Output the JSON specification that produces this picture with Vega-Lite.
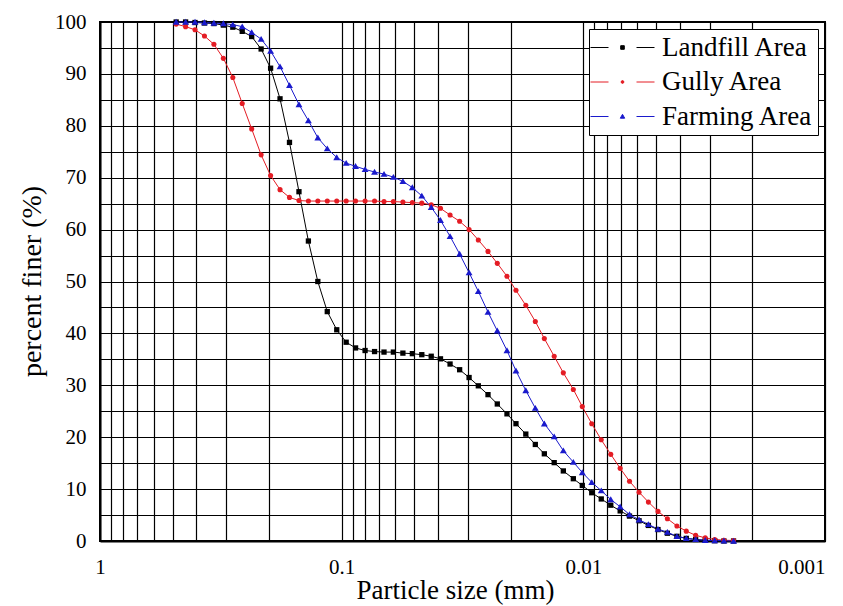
{
  "$schema": "https://vega.github.io/schema/vega-lite/v6.json",
  "width": 725,
  "height": 519,
  "autosize": {"type": "none"},
  "padding": {"left": 100, "top": 22, "right": 18, "bottom": 65},
  "background": "#ffffff",
  "config": {
    "font": "Liberation Serif",
    "view": {"stroke": "#000000", "strokeWidth": 2},
    "axis": {
      "grid": true,
      "gridColor": "#000000",
      "gridOpacity": 1,
      "gridWidth": 1.2,
      "domainColor": "#000000",
      "domainWidth": 2,
      "ticks": false,
      "labelFont": "Liberation Serif",
      "labelFontSize": 21,
      "labelColor": "#000000",
      "titleFont": "Liberation Serif",
      "titleFontWeight": "normal",
      "titleColor": "#000000"
    }
  },
  "data": {
    "values": [
      {"size_mm": 0.484, "Landfill Area": 100, "Gully Area": 99.6, "Farming Area": 100},
      {"size_mm": 0.4424, "Landfill Area": 100, "Gully Area": 99.1, "Farming Area": 100},
      {"size_mm": 0.4044, "Landfill Area": 99.9, "Gully Area": 98.5, "Farming Area": 100},
      {"size_mm": 0.3696, "Landfill Area": 99.8, "Gully Area": 97.3, "Farming Area": 99.9},
      {"size_mm": 0.3378, "Landfill Area": 99.7, "Gully Area": 95.7, "Farming Area": 99.8},
      {"size_mm": 0.3087, "Landfill Area": 99.4, "Gully Area": 93.0, "Farming Area": 99.7},
      {"size_mm": 0.2821, "Landfill Area": 99.0, "Gully Area": 89.3, "Farming Area": 99.5},
      {"size_mm": 0.2579, "Landfill Area": 98.2, "Gully Area": 84.3, "Farming Area": 99.1},
      {"size_mm": 0.2357, "Landfill Area": 97.2, "Gully Area": 79.4, "Farming Area": 98.0},
      {"size_mm": 0.2154, "Landfill Area": 94.8, "Gully Area": 74.4, "Farming Area": 96.7},
      {"size_mm": 0.1968, "Landfill Area": 91.1, "Gully Area": 70.4, "Farming Area": 94.4},
      {"size_mm": 0.1799, "Landfill Area": 85.2, "Gully Area": 67.7, "Farming Area": 91.4},
      {"size_mm": 0.1644, "Landfill Area": 76.8, "Gully Area": 66.2, "Farming Area": 87.8},
      {"size_mm": 0.1502, "Landfill Area": 67.3, "Gully Area": 65.6, "Farming Area": 84.1},
      {"size_mm": 0.1373, "Landfill Area": 57.8, "Gully Area": 65.5, "Farming Area": 81.0},
      {"size_mm": 0.1255, "Landfill Area": 50.0, "Gully Area": 65.5, "Farming Area": 77.7},
      {"size_mm": 0.1147, "Landfill Area": 44.2, "Gully Area": 65.5, "Farming Area": 75.6},
      {"size_mm": 0.1048, "Landfill Area": 40.7, "Gully Area": 65.5, "Farming Area": 73.9},
      {"size_mm": 0.0958, "Landfill Area": 38.3, "Gully Area": 65.5, "Farming Area": 72.8},
      {"size_mm": 0.0876, "Landfill Area": 37.2, "Gully Area": 65.5, "Farming Area": 72.2},
      {"size_mm": 0.08, "Landfill Area": 36.7, "Gully Area": 65.5, "Farming Area": 71.6},
      {"size_mm": 0.0731, "Landfill Area": 36.5, "Gully Area": 65.5, "Farming Area": 71.1},
      {"size_mm": 0.0668, "Landfill Area": 36.4, "Gully Area": 65.4, "Farming Area": 70.7},
      {"size_mm": 0.0611, "Landfill Area": 36.4, "Gully Area": 65.4, "Farming Area": 70.1},
      {"size_mm": 0.0558, "Landfill Area": 36.2, "Gully Area": 65.3, "Farming Area": 69.3},
      {"size_mm": 0.051, "Landfill Area": 36.1, "Gully Area": 65.2, "Farming Area": 68.1},
      {"size_mm": 0.0466, "Landfill Area": 35.9, "Gully Area": 65.1, "Farming Area": 66.5},
      {"size_mm": 0.0426, "Landfill Area": 35.6, "Gully Area": 64.8, "Farming Area": 64.3},
      {"size_mm": 0.039, "Landfill Area": 35.1, "Gully Area": 64.1, "Farming Area": 61.8},
      {"size_mm": 0.0356, "Landfill Area": 34.1, "Gully Area": 62.8, "Farming Area": 58.7},
      {"size_mm": 0.0325, "Landfill Area": 33.0, "Gully Area": 61.6, "Farming Area": 55.3},
      {"size_mm": 0.0297, "Landfill Area": 31.5, "Gully Area": 60.0, "Farming Area": 51.7},
      {"size_mm": 0.0272, "Landfill Area": 29.9, "Gully Area": 58.0, "Farming Area": 48.1},
      {"size_mm": 0.0248, "Landfill Area": 28.2, "Gully Area": 55.8, "Farming Area": 44.1},
      {"size_mm": 0.0227, "Landfill Area": 26.4, "Gully Area": 53.5, "Farming Area": 40.5},
      {"size_mm": 0.0207, "Landfill Area": 24.5, "Gully Area": 51.0, "Farming Area": 36.7},
      {"size_mm": 0.019, "Landfill Area": 22.6, "Gully Area": 48.3, "Farming Area": 32.8},
      {"size_mm": 0.0173, "Landfill Area": 20.6, "Gully Area": 45.4, "Farming Area": 29.0},
      {"size_mm": 0.0158, "Landfill Area": 18.6, "Gully Area": 42.3, "Farming Area": 25.6},
      {"size_mm": 0.0145, "Landfill Area": 16.8, "Gully Area": 39.0, "Farming Area": 22.6},
      {"size_mm": 0.0132, "Landfill Area": 15.1, "Gully Area": 35.6, "Farming Area": 20.1},
      {"size_mm": 0.0121, "Landfill Area": 13.5, "Gully Area": 32.4, "Farming Area": 17.4},
      {"size_mm": 0.011, "Landfill Area": 12.0, "Gully Area": 29.2, "Farming Area": 15.2},
      {"size_mm": 0.0101, "Landfill Area": 10.7, "Gully Area": 25.9, "Farming Area": 13.2},
      {"size_mm": 0.00923, "Landfill Area": 9.3, "Gully Area": 22.6, "Farming Area": 11.3},
      {"size_mm": 0.00843, "Landfill Area": 8.1, "Gully Area": 19.5, "Farming Area": 9.7},
      {"size_mm": 0.0077, "Landfill Area": 6.9, "Gully Area": 16.7, "Farming Area": 8.0},
      {"size_mm": 0.00704, "Landfill Area": 5.8, "Gully Area": 14.0, "Farming Area": 6.6},
      {"size_mm": 0.00644, "Landfill Area": 4.8, "Gully Area": 11.5, "Farming Area": 5.1},
      {"size_mm": 0.00588, "Landfill Area": 3.9, "Gully Area": 9.4, "Farming Area": 4.1},
      {"size_mm": 0.00538, "Landfill Area": 3.0, "Gully Area": 7.5, "Farming Area": 3.2},
      {"size_mm": 0.00491, "Landfill Area": 2.2, "Gully Area": 5.7, "Farming Area": 2.3},
      {"size_mm": 0.00449, "Landfill Area": 1.5, "Gully Area": 4.3, "Farming Area": 1.7},
      {"size_mm": 0.0041, "Landfill Area": 0.9, "Gully Area": 2.9, "Farming Area": 0.9},
      {"size_mm": 0.00375, "Landfill Area": 0.5, "Gully Area": 1.9, "Farming Area": 0.5},
      {"size_mm": 0.00343, "Landfill Area": 0.3, "Gully Area": 1.1, "Farming Area": 0.3},
      {"size_mm": 0.00313, "Landfill Area": 0.15, "Gully Area": 0.6, "Farming Area": 0.15},
      {"size_mm": 0.00286, "Landfill Area": 0.05, "Gully Area": 0.3, "Farming Area": 0.1},
      {"size_mm": 0.00262, "Landfill Area": 0, "Gully Area": 0.15, "Farming Area": 0.05},
      {"size_mm": 0.00239, "Landfill Area": 0, "Gully Area": 0.1, "Farming Area": 0}
    ]
  },
  "transform": [
    {"fold": ["Landfill Area", "Gully Area", "Farming Area"], "as": ["series", "percent"]}
  ],
  "encoding": {
    "x": {
      "field": "size_mm",
      "type": "quantitative",
      "scale": {"type": "log", "domain": [0.001, 1], "reverse": true, "nice": false},
      "axis": {
        "title": "Particle size (mm)",
        "values": [1, 0.9, 0.8, 0.7, 0.6, 0.5, 0.4, 0.3, 0.2, 0.1, 0.09, 0.08, 0.07, 0.06, 0.05, 0.04, 0.03, 0.02, 0.01, 0.009, 0.008, 0.007, 0.006, 0.005, 0.004, 0.003, 0.002, 0.001],
        "labelExpr": "datum.value == 1 ? '1' : datum.value == 0.1 ? '0.1' : datum.value == 0.01 ? '0.01' : datum.value == 0.001 ? '0.001' : ''",
        "labelAlign": {"condition": {"test": "datum.value < 0.0015", "value": "right"}, "value": "center"},
        "labelOverlap": false,
        "labelFlush": false,
        "labelPadding": 15,
        "labelFont": "Liberation Serif",
        "labelFontSize": 21,
        "titleFont": "Liberation Serif",
        "titleFontSize": 27,
        "titleX": 355,
        "titleY": 57,
        "titleBaseline": "alphabetic",
        "titleAlign": "center"
      }
    },
    "y": {
      "field": "percent",
      "type": "quantitative",
      "scale": {"domain": [0, 100], "nice": false},
      "axis": {
        "title": "percent finer (%)",
        "values": [0, 5, 10, 15, 20, 25, 30, 35, 40, 45, 50, 55, 60, 65, 70, 75, 80, 85, 90, 95, 100],
        "labelExpr": "datum.value % 10 == 0 ? datum.label : ''",
        "labelOverlap": false,
        "labelFlush": false,
        "labelPadding": 14,
        "labelFont": "Liberation Serif",
        "labelFontSize": 21,
        "titleFont": "Liberation Serif",
        "titleFontSize": 28,
        "titleX": -60,
        "titleY": 259,
        "titleBaseline": "alphabetic",
        "titleAlign": "center",
        "titleAngle": -90
      }
    },
    "color": {
      "field": "series",
      "type": "nominal",
      "scale": {
        "domain": ["Landfill Area", "Gully Area", "Farming Area"],
        "range": ["#000000", "#e41c24", "#1a1acc"]
      },
      "legend": {
        "title": null,
        "orient": "top-right",
        "offset": 7,
        "padding": 5,
        "rowPadding": 6.5,
        "strokeColor": "#000000",
        "fillColor": "#ffffff",
        "cornerRadius": 0,
        "labelFont": "Liberation Serif",
        "labelFontSize": 27,
        "labelColor": "#000000",
        "labelLimit": 400,
        "symbolSize": 16,
        "symbolOffset": 15,
        "labelOffset": 26,
        "symbolStrokeWidth": 1,
        "symbolOpacity": 1
      }
    }
  },
  "layer": [
    {
      "mark": {"type": "line", "strokeWidth": 1},
      "encoding": {}
    },
    {
      "transform": [{"filter": "datum.series == 'Landfill Area'"}],
      "mark": {"type": "point", "filled": true, "opacity": 1, "size": 28, "shape": "square"}
    },
    {
      "transform": [{"filter": "datum.series == 'Gully Area'"}],
      "mark": {"type": "point", "filled": true, "opacity": 1, "size": 26, "shape": "circle"}
    },
    {
      "transform": [{"filter": "datum.series == 'Farming Area'"}],
      "mark": {"type": "point", "filled": true, "opacity": 1, "size": 26, "shape": "M0,-1.25L1.35,1.05L-1.35,1.05Z"}
    },
    {
      "transform": [{"filter": "datum.percent > 1000"}],
      "mark": {"type": "point", "filled": true, "opacity": 1, "size": 16, "strokeWidth": 1},
      "encoding": {
        "shape": {
          "field": "series",
          "type": "nominal",
          "scale": {
            "domain": ["Landfill Area", "Gully Area", "Farming Area"],
            "range": [
              "M-16,0H-7M7,0H16M-0.9,-0.9H0.9V0.9H-0.9Z",
              "M-16,0H-7M7,0H16M-0.7,0A0.7,0.7,0,1,0,0.7,0A0.7,0.7,0,1,0,-0.7,0Z",
              "M-16,0H-7M7,0H16M0,-1.1L1.1,0.85L-1.1,0.85Z"
            ]
          },
          "legend": {"title": null}
        }
      }
    }
  ]
}
